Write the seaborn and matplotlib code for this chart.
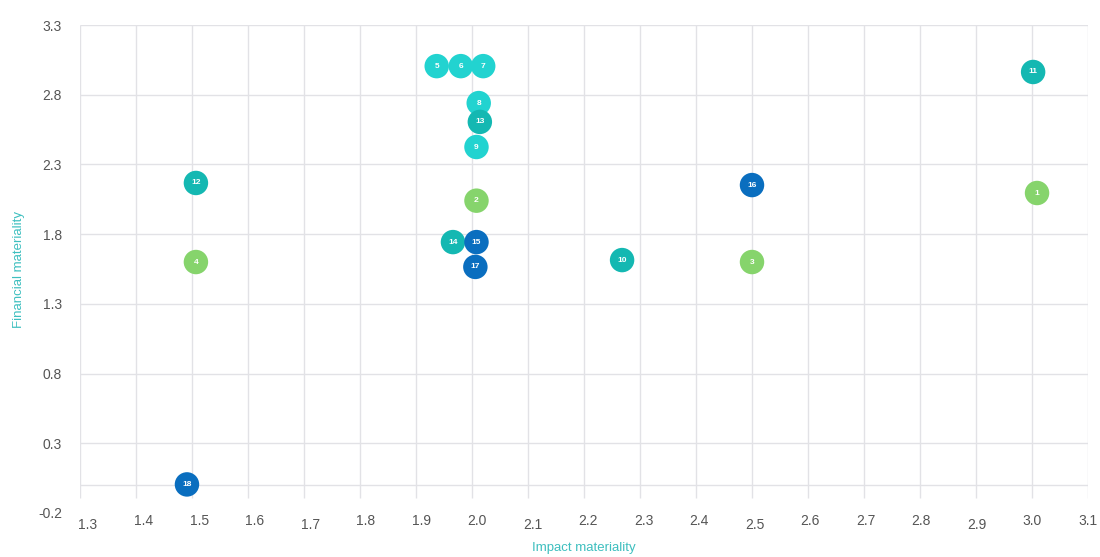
import matplotlib
matplotlib.use("Agg")
import matplotlib.pyplot as plt
import matplotlib.transforms as mtransforms
import seaborn as sns
import pandas as pd
import numpy as np

# ---- data ----
ids = [1, 2, 3, 4, 5, 6, 7, 8, 9, 10, 11, 12, 13, 14, 15, 16, 17, 18]
impact = [3.009, 2.008, 2.5, 1.507, 1.937, 1.98, 2.02, 2.012, 2.008, 2.268,
          3.002, 1.507, 2.014, 1.966, 2.008, 2.5, 2.006, 1.491]
financial = [2.095, 2.04, 1.60, 1.60, 3.005, 3.005, 3.005, 2.74, 2.425, 1.614,
             2.963, 2.167, 2.605, 1.743, 1.743, 2.152, 1.565, 0.005]
groups = ["green", "green", "green", "green", "cyan", "cyan", "cyan", "cyan", "cyan",
          "teal", "teal", "teal", "teal", "teal", "blue", "blue", "blue", "blue"]
x_ticks = [1.3, 1.4, 1.5, 1.6, 1.7, 1.8, 1.9, 2.0, 2.1, 2.2, 2.3, 2.4, 2.5,
           2.6, 2.7, 2.8, 2.9, 3.0, 3.1]
y_ticks = [-0.2, 0.3, 0.8, 1.3, 1.8, 2.3, 2.8, 3.3]

palette = {"green": "#86d46c", "cyan": "#22d3d0", "teal": "#14b8b2", "blue": "#0a6ebf"}

df = pd.DataFrame({"id": ids, "impact": impact, "financial": financial, "group": groups})

sns.set_theme(style="white")
plt.rcParams["font.family"] = ["Liberation Sans", "DejaVu Sans"]

fig = plt.figure(figsize=(11, 5.57), dpi=100)
ax = fig.add_axes([80 / 1100, 1 - 513 / 557, 1008 / 1100, 488 / 557])

ax.set_xlim(1.3, 3.1)
ax.set_ylim(-0.2, 3.3)

grid_c = "#e2e2e6"
# vertical grid lines
ax.vlines(x_ticks, -0.093, 3.3, colors=grid_c, linewidth=1.0, zorder=0)
# horizontal grid lines
ax.hlines([t for t in y_ticks if t > 0] + [0.0], 1.3, 3.1, colors=grid_c, linewidth=1.0, zorder=0)

sns.scatterplot(data=df, x="impact", y="financial", hue="group", palette=palette,
                s=310, edgecolor="none", linewidth=0, legend=False, ax=ax, zorder=3)

for i, x, y in zip(ids, impact, financial):
    ax.text(x, y, str(i), color="white", fontsize=6, fontweight="bold",
            ha="center", va="center", zorder=4)

for s in ax.spines.values():
    s.set_visible(False)

ax.set_xticks(x_ticks)
ax.set_xticklabels([f"{t:.1f}" for t in x_ticks])
ax.set_yticks(y_ticks)
ax.set_yticklabels([f"{t:.1f}" for t in y_ticks])
ax.set_xticks([t + 0.05 for t in x_ticks[:-1]], minor=True)

ax.tick_params(axis="both", which="major", length=0, labelsize=10, labelcolor="#555555")
ax.tick_params(axis="x", which="minor", length=2, color="#d0d0d0", width=1, direction="out")
ax.tick_params(axis="y", which="major", pad=13)

n = len(x_ticks)
for k, (tick, lab) in enumerate(zip(ax.xaxis.get_major_ticks(), ax.get_xticklabels())):
    tick.set_pad(3.5 if k % 4 == 0 else 1.0)
    dx = (8 - 8 * k / (n - 1)) / 100.0
    lab.set_transform(lab.get_transform() + mtransforms.ScaledTranslation(dx, 0, fig.dpi_scale_trans))

label_c = "#3dbfbf"
ax.set_xlabel("Impact materiality", color=label_c, fontsize=9.5, labelpad=7)
ax.set_ylabel("Financial materiality", color=label_c, fontsize=9.5, labelpad=9)
ax.grid(False)

fig.savefig("out.png", dpi=100)
